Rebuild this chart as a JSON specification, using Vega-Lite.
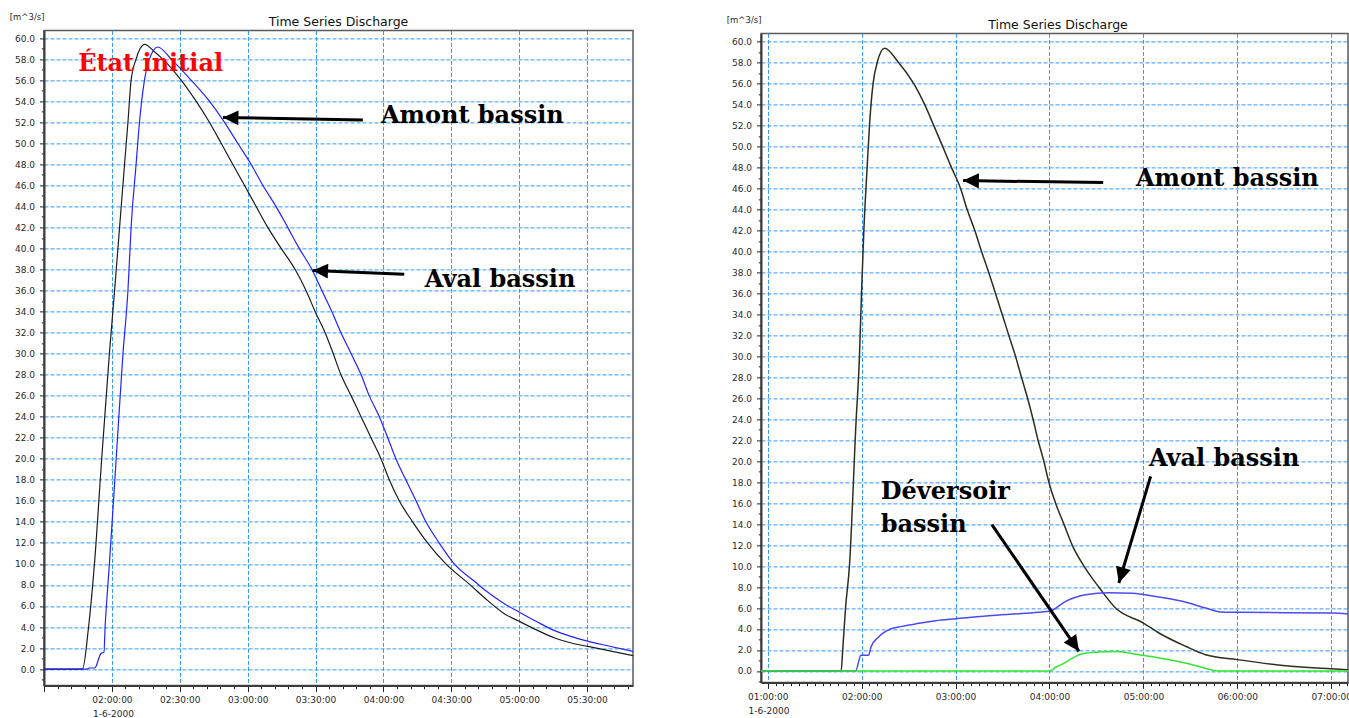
{
  "$schema": "https://vega.github.io/schema/vega-lite/v6.json",
  "background": "white",
  "padding": {"left": 8, "top": 11, "right": 0, "bottom": 0},
  "spacing": 91,
  "center": true,
  "datasets": {
    "gauche": [
      {"minute": 90, "serie": "Amont bassin", "q": 0},
      {"minute": 107, "serie": "Amont bassin", "q": 0},
      {"minute": 109.7, "serie": "Amont bassin", "q": 4},
      {"minute": 112.3, "serie": "Amont bassin", "q": 10},
      {"minute": 115.5, "serie": "Amont bassin", "q": 20},
      {"minute": 118.9, "serie": "Amont bassin", "q": 30},
      {"minute": 121.2, "serie": "Amont bassin", "q": 36},
      {"minute": 123.4, "serie": "Amont bassin", "q": 42},
      {"minute": 125.6, "serie": "Amont bassin", "q": 48},
      {"minute": 127.1, "serie": "Amont bassin", "q": 52},
      {"minute": 128.5, "serie": "Amont bassin", "q": 56},
      {"minute": 130.7, "serie": "Amont bassin", "q": 58},
      {"minute": 132.5, "serie": "Amont bassin", "q": 59},
      {"minute": 134.5, "serie": "Amont bassin", "q": 59.4},
      {"minute": 138.8, "serie": "Amont bassin", "q": 58.7},
      {"minute": 142.5, "serie": "Amont bassin", "q": 58},
      {"minute": 150.6, "serie": "Amont bassin", "q": 56},
      {"minute": 157.2, "serie": "Amont bassin", "q": 54},
      {"minute": 163.1, "serie": "Amont bassin", "q": 52},
      {"minute": 168.3, "serie": "Amont bassin", "q": 50},
      {"minute": 173.4, "serie": "Amont bassin", "q": 48},
      {"minute": 178.6, "serie": "Amont bassin", "q": 46},
      {"minute": 183.7, "serie": "Amont bassin", "q": 44},
      {"minute": 188.9, "serie": "Amont bassin", "q": 42},
      {"minute": 194.8, "serie": "Amont bassin", "q": 40},
      {"minute": 201, "serie": "Amont bassin", "q": 38},
      {"minute": 205.8, "serie": "Amont bassin", "q": 36},
      {"minute": 209.8, "serie": "Amont bassin", "q": 34},
      {"minute": 214.2, "serie": "Amont bassin", "q": 32},
      {"minute": 217.8, "serie": "Amont bassin", "q": 30},
      {"minute": 221.2, "serie": "Amont bassin", "q": 28},
      {"minute": 225.7, "serie": "Amont bassin", "q": 26},
      {"minute": 230.1, "serie": "Amont bassin", "q": 24},
      {"minute": 234.5, "serie": "Amont bassin", "q": 22},
      {"minute": 238.9, "serie": "Amont bassin", "q": 20},
      {"minute": 242.6, "serie": "Amont bassin", "q": 18},
      {"minute": 247, "serie": "Amont bassin", "q": 16},
      {"minute": 252.9, "serie": "Amont bassin", "q": 14},
      {"minute": 259.5, "serie": "Amont bassin", "q": 12},
      {"minute": 267.6, "serie": "Amont bassin", "q": 10},
      {"minute": 278.6, "serie": "Amont bassin", "q": 7.96},
      {"minute": 286, "serie": "Amont bassin", "q": 6.53},
      {"minute": 293.4, "serie": "Amont bassin", "q": 5.27},
      {"minute": 300, "serie": "Amont bassin", "q": 4.54},
      {"minute": 308.1, "serie": "Amont bassin", "q": 3.68},
      {"minute": 315.4, "serie": "Amont bassin", "q": 2.98},
      {"minute": 324.3, "serie": "Amont bassin", "q": 2.41},
      {"minute": 330.2, "serie": "Amont bassin", "q": 2.16},
      {"minute": 339, "serie": "Amont bassin", "q": 1.78},
      {"minute": 350.3, "serie": "Amont bassin", "q": 1.27},
      {"minute": 90, "serie": "Aval bassin", "q": 0},
      {"minute": 109.1, "serie": "Aval bassin", "q": 0},
      {"minute": 110, "serie": "Aval bassin", "q": 0.1},
      {"minute": 112.3, "serie": "Aval bassin", "q": 0.1},
      {"minute": 113.1, "serie": "Aval bassin", "q": 0.3},
      {"minute": 114.5, "serie": "Aval bassin", "q": 1.2},
      {"minute": 115.3, "serie": "Aval bassin", "q": 1.5},
      {"minute": 116.5, "serie": "Aval bassin", "q": 1.6},
      {"minute": 117, "serie": "Aval bassin", "q": 4},
      {"minute": 117.9, "serie": "Aval bassin", "q": 7},
      {"minute": 118.9, "serie": "Aval bassin", "q": 10},
      {"minute": 121.9, "serie": "Aval bassin", "q": 20},
      {"minute": 124.9, "serie": "Aval bassin", "q": 30},
      {"minute": 127.1, "serie": "Aval bassin", "q": 36},
      {"minute": 128.5, "serie": "Aval bassin", "q": 42},
      {"minute": 130.7, "serie": "Aval bassin", "q": 48},
      {"minute": 132.2, "serie": "Aval bassin", "q": 52},
      {"minute": 134.4, "serie": "Aval bassin", "q": 56},
      {"minute": 136.6, "serie": "Aval bassin", "q": 58},
      {"minute": 140.3, "serie": "Aval bassin", "q": 59.15},
      {"minute": 146.2, "serie": "Aval bassin", "q": 58},
      {"minute": 155, "serie": "Aval bassin", "q": 56},
      {"minute": 163.1, "serie": "Aval bassin", "q": 54},
      {"minute": 169.7, "serie": "Aval bassin", "q": 52},
      {"minute": 175.6, "serie": "Aval bassin", "q": 50},
      {"minute": 181.5, "serie": "Aval bassin", "q": 48},
      {"minute": 186.7, "serie": "Aval bassin", "q": 46},
      {"minute": 192.5, "serie": "Aval bassin", "q": 44},
      {"minute": 197.7, "serie": "Aval bassin", "q": 42},
      {"minute": 202.8, "serie": "Aval bassin", "q": 40},
      {"minute": 208.4, "serie": "Aval bassin", "q": 38},
      {"minute": 212.8, "serie": "Aval bassin", "q": 36},
      {"minute": 217.2, "serie": "Aval bassin", "q": 34},
      {"minute": 221.2, "serie": "Aval bassin", "q": 32},
      {"minute": 225.7, "serie": "Aval bassin", "q": 30},
      {"minute": 230.1, "serie": "Aval bassin", "q": 28},
      {"minute": 233.7, "serie": "Aval bassin", "q": 26},
      {"minute": 238.2, "serie": "Aval bassin", "q": 24},
      {"minute": 241.9, "serie": "Aval bassin", "q": 22},
      {"minute": 245.5, "serie": "Aval bassin", "q": 20},
      {"minute": 249.9, "serie": "Aval bassin", "q": 18},
      {"minute": 254.4, "serie": "Aval bassin", "q": 16},
      {"minute": 258.8, "serie": "Aval bassin", "q": 14},
      {"minute": 264.6, "serie": "Aval bassin", "q": 12},
      {"minute": 271.3, "serie": "Aval bassin", "q": 10},
      {"minute": 280.5, "serie": "Aval bassin", "q": 8.3},
      {"minute": 286, "serie": "Aval bassin", "q": 7.32},
      {"minute": 293.4, "serie": "Aval bassin", "q": 6.22},
      {"minute": 300, "serie": "Aval bassin", "q": 5.42},
      {"minute": 308.1, "serie": "Aval bassin", "q": 4.47},
      {"minute": 315.4, "serie": "Aval bassin", "q": 3.68},
      {"minute": 322.8, "serie": "Aval bassin", "q": 3.11},
      {"minute": 330.2, "serie": "Aval bassin", "q": 2.66},
      {"minute": 339, "serie": "Aval bassin", "q": 2.22},
      {"minute": 350.3, "serie": "Aval bassin", "q": 1.68}
    ],
    "droite": [
      {"minute": 55.7, "serie": "Amont bassin", "q": 0},
      {"minute": 106.9, "serie": "Amont bassin", "q": 0},
      {"minute": 107.9, "serie": "Amont bassin", "q": 2},
      {"minute": 109.7, "serie": "Amont bassin", "q": 6},
      {"minute": 112.2, "serie": "Amont bassin", "q": 10},
      {"minute": 116.4, "serie": "Amont bassin", "q": 23.7},
      {"minute": 118.6, "serie": "Amont bassin", "q": 30},
      {"minute": 119.9, "serie": "Amont bassin", "q": 36},
      {"minute": 121.4, "serie": "Amont bassin", "q": 42},
      {"minute": 123.5, "serie": "Amont bassin", "q": 48},
      {"minute": 125, "serie": "Amont bassin", "q": 52},
      {"minute": 127.3, "serie": "Amont bassin", "q": 56},
      {"minute": 129.9, "serie": "Amont bassin", "q": 58},
      {"minute": 134.6, "serie": "Amont bassin", "q": 59.37},
      {"minute": 143.7, "serie": "Amont bassin", "q": 58},
      {"minute": 153.3, "serie": "Amont bassin", "q": 56},
      {"minute": 160.3, "serie": "Amont bassin", "q": 54},
      {"minute": 166.1, "serie": "Amont bassin", "q": 52},
      {"minute": 171.8, "serie": "Amont bassin", "q": 50},
      {"minute": 177.4, "serie": "Amont bassin", "q": 48},
      {"minute": 183.2, "serie": "Amont bassin", "q": 46},
      {"minute": 187.4, "serie": "Amont bassin", "q": 44},
      {"minute": 192.3, "serie": "Amont bassin", "q": 42},
      {"minute": 196.6, "serie": "Amont bassin", "q": 40},
      {"minute": 201.2, "serie": "Amont bassin", "q": 38},
      {"minute": 205.5, "serie": "Amont bassin", "q": 36},
      {"minute": 209.8, "serie": "Amont bassin", "q": 34},
      {"minute": 214, "serie": "Amont bassin", "q": 32},
      {"minute": 218.3, "serie": "Amont bassin", "q": 30},
      {"minute": 222.1, "serie": "Amont bassin", "q": 28},
      {"minute": 226, "serie": "Amont bassin", "q": 26},
      {"minute": 229.5, "serie": "Amont bassin", "q": 24},
      {"minute": 232.7, "serie": "Amont bassin", "q": 22},
      {"minute": 236.4, "serie": "Amont bassin", "q": 20},
      {"minute": 239.6, "serie": "Amont bassin", "q": 18},
      {"minute": 243.9, "serie": "Amont bassin", "q": 16},
      {"minute": 249.2, "serie": "Amont bassin", "q": 14},
      {"minute": 254.5, "serie": "Amont bassin", "q": 12},
      {"minute": 262, "serie": "Amont bassin", "q": 10},
      {"minute": 271.5, "serie": "Amont bassin", "q": 8},
      {"minute": 282.2, "serie": "Amont bassin", "q": 6},
      {"minute": 300, "serie": "Amont bassin", "q": 4.57},
      {"minute": 309.9, "serie": "Amont bassin", "q": 3.62},
      {"minute": 327, "serie": "Amont bassin", "q": 2.35},
      {"minute": 339.7, "serie": "Amont bassin", "q": 1.55},
      {"minute": 360, "serie": "Amont bassin", "q": 1.08},
      {"minute": 390.9, "serie": "Amont bassin", "q": 0.5},
      {"minute": 420, "serie": "Amont bassin", "q": 0.2},
      {"minute": 430.7, "serie": "Amont bassin", "q": 0.12},
      {"minute": 55.7, "serie": "Aval bassin", "q": 0},
      {"minute": 116.1, "serie": "Aval bassin", "q": 0},
      {"minute": 119.6, "serie": "Aval bassin", "q": 1.5},
      {"minute": 124.5, "serie": "Aval bassin", "q": 1.5},
      {"minute": 126, "serie": "Aval bassin", "q": 2.3},
      {"minute": 130.5, "serie": "Aval bassin", "q": 3.2},
      {"minute": 138.4, "serie": "Aval bassin", "q": 4.0},
      {"minute": 145.8, "serie": "Aval bassin", "q": 4.25},
      {"minute": 154.4, "serie": "Aval bassin", "q": 4.48},
      {"minute": 167.2, "serie": "Aval bassin", "q": 4.79},
      {"minute": 180, "serie": "Aval bassin", "q": 4.98},
      {"minute": 201.2, "serie": "Aval bassin", "q": 5.27},
      {"minute": 220.4, "serie": "Aval bassin", "q": 5.46},
      {"minute": 235.3, "serie": "Aval bassin", "q": 5.62},
      {"minute": 240, "serie": "Aval bassin", "q": 5.69},
      {"minute": 250.3, "serie": "Aval bassin", "q": 6.64},
      {"minute": 263, "serie": "Aval bassin", "q": 7.27},
      {"minute": 278, "serie": "Aval bassin", "q": 7.45},
      {"minute": 292.9, "serie": "Aval bassin", "q": 7.4},
      {"minute": 307.8, "serie": "Aval bassin", "q": 7.11},
      {"minute": 324.8, "serie": "Aval bassin", "q": 6.64},
      {"minute": 339.7, "serie": "Aval bassin", "q": 6.0},
      {"minute": 349.3, "serie": "Aval bassin", "q": 5.62},
      {"minute": 361, "serie": "Aval bassin", "q": 5.59},
      {"minute": 420.6, "serie": "Aval bassin", "q": 5.52},
      {"minute": 430.7, "serie": "Aval bassin", "q": 5.43},
      {"minute": 55.7, "serie": "Déversoir bassin", "q": 0},
      {"minute": 240, "serie": "Déversoir bassin", "q": 0},
      {"minute": 244, "serie": "Déversoir bassin", "q": 0.35},
      {"minute": 250.3, "serie": "Déversoir bassin", "q": 0.82},
      {"minute": 255, "serie": "Déversoir bassin", "q": 1.25},
      {"minute": 261, "serie": "Déversoir bassin", "q": 1.65},
      {"minute": 271.5, "serie": "Déversoir bassin", "q": 1.8},
      {"minute": 282.2, "serie": "Déversoir bassin", "q": 1.85},
      {"minute": 297.1, "serie": "Déversoir bassin", "q": 1.55},
      {"minute": 314.2, "serie": "Déversoir bassin", "q": 1.14},
      {"minute": 331.2, "serie": "Déversoir bassin", "q": 0.6},
      {"minute": 348.2, "serie": "Déversoir bassin", "q": 0},
      {"minute": 430.7, "serie": "Déversoir bassin", "q": 0}
    ],
    "notes_gauche": [
      {"minute": 105.1, "q": 57.5, "label": "État initial"},
      {"minute": 238.9, "q": 52.6, "label": "Amont bassin"},
      {"minute": 258.3, "q": 36.95, "label": "Aval bassin"}
    ],
    "fleches_gauche": [
      {"fleche": "amont", "pos": "queue", "minute": 230.9, "q": 52.2},
      {"fleche": "amont", "pos": "pointe", "minute": 169.1, "q": 52.45},
      {"fleche": "aval", "pos": "queue", "minute": 249.2, "q": 37.53},
      {"fleche": "aval", "pos": "pointe", "minute": 208.7, "q": 37.9}
    ],
    "notes_droite": [
      {"minute": 295.2, "q": 46.9, "label": "Amont bassin"},
      {"minute": 303.5, "q": 20.23, "label": "Aval bassin"},
      {"minute": 132.2, "q": 17.09, "label": "Déversoir"},
      {"minute": 132.2, "q": 13.94, "label": "bassin"}
    ],
    "fleches_droite": [
      {"fleche": "amont", "pos": "queue", "minute": 274.3, "q": 46.57},
      {"fleche": "amont", "pos": "pointe", "minute": 184.8, "q": 46.76},
      {"fleche": "aval", "pos": "queue", "minute": 304.6, "q": 18.55},
      {"fleche": "aval", "pos": "pointe", "minute": 284.3, "q": 8.39},
      {"fleche": "deversoir", "pos": "queue", "minute": 203.2, "q": 13.95},
      {"fleche": "deversoir", "pos": "pointe", "minute": 258.8, "q": 1.87}
    ]
  },
  "hconcat": [
    {
      "width": 589,
      "height": 655,
      "title": {"text": "Time Series Discharge", "frame": "group", "anchor": "middle", "offset": -16, "font": "DejaVu Sans", "fontSize": 12.5, "fontWeight": "normal", "color": "#111111"},
      "layer": [
        {
          "data": {"name": "gauche"},
          "mark": {"type": "line", "strokeWidth": 1.2, "clip": true, "interpolate": "monotone"},
          "encoding": {
            "x": {
              "field": "minute", "type": "quantitative",
              "scale": {"domain": [90, 350.3], "nice": false, "zero": false},
              "axis": {
                "values": [90,96,102,108,114,120,126,132,138,144,150,156,162,168,174,180,186,192,198,204,210,216,222,228,234,240,246,252,258,264,270,276,282,288,294,300,306,312,318,324,330,336,342,348],
                "tickCount": 500,
                "labelExpr": "(datum.value % 30 != 0 || datum.value == 90) ? '' : format(floor(datum.value / 60), '02d') + ':' + format(datum.value % 60, '02d') + ':00'",
                "gridOpacity": {"condition": {"test": "datum.value % 30 == 0", "value": 1}, "value": 0},
                "tickDash": {"condition": {"test": "datum.value % 30 == 0", "value": [20, 1]}, "value": [3.3, 20]},
                "tickSize": 6,
                "labelPadding": 4,
                "title": "1-6-2000", "titleX": 69, "titleY": 31.5, "titleAlign": "center", "titleAnchor": null, "titleBaseline": "alphabetic",
                "titleFont": "DejaVu Sans", "titleFontSize": 9, "titleFontWeight": "normal", "titleColor": "#2a2a2a"
              }
            },
            "y": {
              "field": "q", "type": "quantitative",
              "scale": {"domain": [-1.55, 60.73], "nice": false, "zero": false},
              "axis": {
                "values": [-1,0,1,2,3,4,5,6,7,8,9,10,11,12,13,14,15,16,17,18,19,20,21,22,23,24,25,26,27,28,29,30,31,32,33,34,35,36,37,38,39,40,41,42,43,44,45,46,47,48,49,50,51,52,53,54,55,56,57,58,59,60],
                "tickCount": 500,
                "labelExpr": "datum.value % 2 == 0 ? format(datum.value, '.1f') : ''",
                "gridOpacity": {"condition": {"test": "datum.value % 2 == 0", "value": 1}, "value": 0},
                "tickDash": {"condition": {"test": "datum.value % 2 == 0", "value": [20, 1]}, "value": [2.7, 20]},
                "tickSize": 4.5,
                "labelPadding": 5,
                "title": "[m^3/s]", "titleAngle": 0, "titleAlign": "right", "titleBaseline": "alphabetic",
                "titleX": 0, "titleY": -11, "titleFont": "DejaVu Sans", "titleFontSize": 8.5, "titleFontWeight": "normal", "titleColor": "#2a2a2a"
              }
            },
            "color": {"field": "serie", "type": "nominal", "legend": null,
              "scale": {"domain": ["Amont bassin", "Aval bassin"], "range": ["#1c1c1c", "#2222ff"]}}
          }
        },
        {
          "data": {"name": "fleches_gauche"},
          "mark": {"type": "line", "strokeWidth": 3, "color": "black"},
          "encoding": {
            "x": {"field": "minute", "type": "quantitative"},
            "y": {"field": "q", "type": "quantitative"},
            "detail": {"field": "fleche"}
          }
        },
        {
          "data": {"name": "fleches_gauche"},
          "transform": [{"filter": "datum.fleche == 'amont' && datum.pos == 'pointe'"}],
          "mark": {"type": "point", "shape": "M0,0L1,-0.48L1,0.48Z", "size": 950, "filled": true, "color": "black", "opacity": 1, "strokeWidth": 0, "angle": 1.2},
          "encoding": {
            "x": {"field": "minute", "type": "quantitative"},
            "y": {"field": "q", "type": "quantitative"}
          }
        },
        {
          "data": {"name": "fleches_gauche"},
          "transform": [{"filter": "datum.fleche == 'aval' && datum.pos == 'pointe'"}],
          "mark": {"type": "point", "shape": "M0,0L1,-0.48L1,0.48Z", "size": 950, "filled": true, "color": "black", "opacity": 1, "strokeWidth": 0, "angle": 2.5},
          "encoding": {
            "x": {"field": "minute", "type": "quantitative"},
            "y": {"field": "q", "type": "quantitative"}
          }
        },
        {
          "data": {"name": "notes_gauche"},
          "mark": {"type": "text", "align": "left", "baseline": "middle", "font": "DejaVu Serif", "fontWeight": "bold", "fontSize": 24},
          "encoding": {
            "x": {"field": "minute", "type": "quantitative"},
            "y": {"field": "q", "type": "quantitative"},
            "text": {"field": "label"},
            "color": {"condition": {"test": "datum.label == 'État initial'", "value": "#ff0000"}, "value": "#000000"}
          }
        }
      ]
    },
    {
      "width": 587,
      "height": 649,
      "title": {"text": "Time Series Discharge", "frame": "group", "anchor": "middle", "offset": -16, "dx": 3.5, "font": "DejaVu Sans", "fontSize": 12.5, "fontWeight": "normal", "color": "#111111"},
      "layer": [
        {
          "data": {"name": "droite"},
          "mark": {"type": "line", "clip": true, "strokeWidth": 1.5, "interpolate": "monotone"},
          "encoding": {
            "x": {
              "field": "minute", "type": "quantitative",
              "scale": {"domain": [55.7, 430.7], "nice": false, "zero": false},
              "axis": {
                "values": [60,65,70,75,80,85,90,95,100,105,110,115,120,125,130,135,140,145,150,155,160,165,170,175,180,185,190,195,200,205,210,215,220,225,230,235,240,245,250,255,260,265,270,275,280,285,290,295,300,305,310,315,320,325,330,335,340,345,350,355,360,365,370,375,380,385,390,395,400,405,410,415,420,425,430],
                "tickCount": 500,
                "labelExpr": "datum.value % 60 != 0 ? '' : format(floor(datum.value / 60), '02d') + ':00:00'",
                "gridOpacity": {"condition": {"test": "datum.value % 60 == 0", "value": 1}, "value": 0},
                "tickDash": {"condition": {"test": "datum.value % 60 == 0", "value": [20, 1]}, "value": [3.3, 20]},
                "tickSize": 6,
                "labelPadding": 4,
                "title": "1-6-2000", "titleX": 7.5, "titleY": 31.5, "titleAlign": "center", "titleAnchor": null, "titleBaseline": "alphabetic",
                "titleFont": "DejaVu Sans", "titleFontSize": 9, "titleFontWeight": "normal", "titleColor": "#2a2a2a"
              }
            },
            "y": {
              "field": "q", "type": "quantitative",
              "scale": {"domain": [-1.09, 60.8], "nice": false, "zero": false},
              "axis": {
                "values": [-1,0,1,2,3,4,5,6,7,8,9,10,11,12,13,14,15,16,17,18,19,20,21,22,23,24,25,26,27,28,29,30,31,32,33,34,35,36,37,38,39,40,41,42,43,44,45,46,47,48,49,50,51,52,53,54,55,56,57,58,59,60],
                "tickCount": 500,
                "labelExpr": "datum.value % 2 == 0 ? format(datum.value, '.1f') : ''",
                "gridOpacity": {"condition": {"test": "datum.value % 2 == 0", "value": 1}, "value": 0},
                "tickDash": {"condition": {"test": "datum.value % 2 == 0", "value": [20, 1]}, "value": [2.7, 20]},
                "tickSize": 4.5,
                "labelPadding": 5,
                "title": "[m^3/s]", "titleAngle": 0, "titleAlign": "right", "titleBaseline": "alphabetic",
                "titleX": 0, "titleY": -11, "titleFont": "DejaVu Sans", "titleFontSize": 8.5, "titleFontWeight": "normal", "titleColor": "#2a2a2a"
              }
            },
            "color": {"field": "serie", "type": "nominal", "legend": null,
              "scale": {"domain": ["Amont bassin", "Aval bassin", "Déversoir bassin"], "range": ["#2e2e1e", "#4b4bf2", "#33e633"]}}
          }
        },
        {
          "data": {"name": "fleches_droite"},
          "mark": {"type": "line", "strokeWidth": 3, "color": "black"},
          "encoding": {
            "x": {"field": "minute", "type": "quantitative"},
            "y": {"field": "q", "type": "quantitative"},
            "detail": {"field": "fleche"}
          }
        },
        {
          "data": {"name": "fleches_droite"},
          "transform": [{"filter": "datum.fleche == 'amont' && datum.pos == 'pointe'"}],
          "mark": {"type": "point", "shape": "M0,0L1,-0.48L1,0.48Z", "size": 1000, "filled": true, "color": "black", "opacity": 1, "strokeWidth": 0, "angle": 0.8},
          "encoding": {
            "x": {"field": "minute", "type": "quantitative"},
            "y": {"field": "q", "type": "quantitative"}
          }
        },
        {
          "data": {"name": "fleches_droite"},
          "transform": [{"filter": "datum.fleche == 'aval' && datum.pos == 'pointe'"}],
          "mark": {"type": "point", "shape": "M0,0L1,-0.48L1,0.48Z", "size": 1000, "filled": true, "color": "black", "opacity": 1, "strokeWidth": 0, "angle": 286.6},
          "encoding": {
            "x": {"field": "minute", "type": "quantitative"},
            "y": {"field": "q", "type": "quantitative"}
          }
        },
        {
          "data": {"name": "fleches_droite"},
          "transform": [{"filter": "datum.fleche == 'deversoir' && datum.pos == 'pointe'"}],
          "mark": {"type": "point", "shape": "M0,0L1,-0.48L1,0.48Z", "size": 1000, "filled": true, "color": "black", "opacity": 1, "strokeWidth": 0, "angle": 235.5},
          "encoding": {
            "x": {"field": "minute", "type": "quantitative"},
            "y": {"field": "q", "type": "quantitative"}
          }
        },
        {
          "data": {"name": "notes_droite"},
          "mark": {"type": "text", "align": "left", "baseline": "middle", "font": "DejaVu Serif", "fontWeight": "bold", "fontSize": 24, "color": "#000000"},
          "encoding": {
            "x": {"field": "minute", "type": "quantitative"},
            "y": {"field": "q", "type": "quantitative"},
            "text": {"field": "label"}
          }
        }
      ]
    }
  ],
  "resolve": {"scale": {"color": "independent"}},
  "config": {
    "font": "DejaVu Sans",
    "view": {"stroke": "#5a5a5a", "strokeWidth": 1.5},
    "axis": {
      "grid": true,
      "gridColor": "#3399ff",
      "gridDash": [4, 2],
      "gridWidth": 1,
      "domainColor": "#3c3c3c",
      "domainWidth": 2,
      "tickColor": "#222222",
      "tickWidth": 1,
      "labelFont": "DejaVu Sans",
      "labelFontSize": 9,
      "labelColor": "#2a2a2a",
      "labelOverlap": false,
      "labelFlush": false
    }
  }
}
